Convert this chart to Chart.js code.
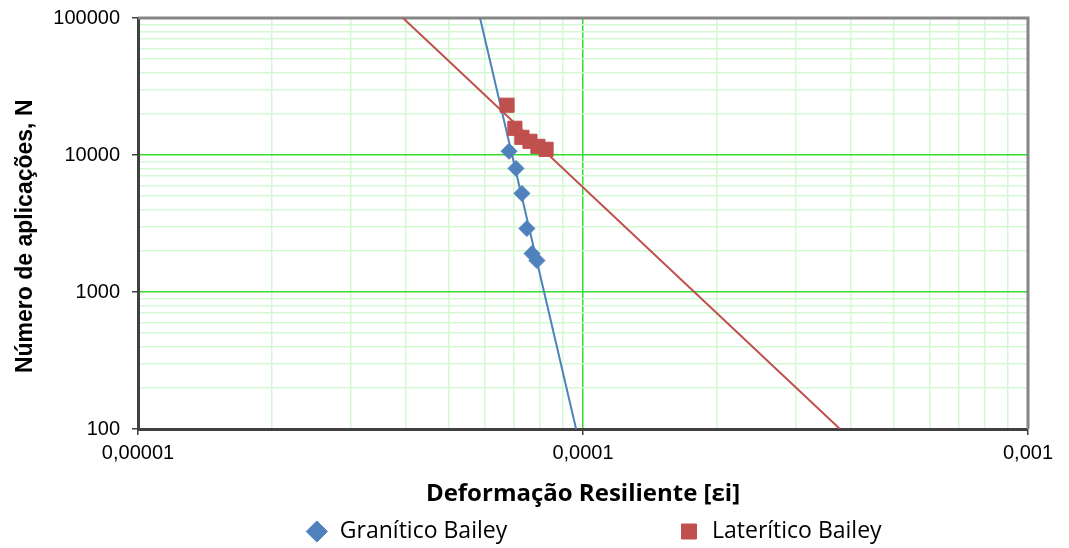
<!DOCTYPE html>
<html>
<head>
<meta charset="utf-8">
<script src="https://cdn.jsdelivr.net/npm/chart.js@4"></script>
<style>
  html, body { margin: 0; padding: 0; background: #fff; }
  #wrap { width: 1069px; height: 548px; }
</style>
</head>
<body>
<div id="wrap"><canvas id="grafico"></canvas></div>
<script>
// Pontos medidos (deformação, N)
const granitoDef = [6.82e-5, 7.07e-5, 7.29e-5, 7.48e-5, 7.68e-5, 7.88e-5];
const granitoN = [10640, 7985, 5243, 2906, 1908, 1696];
const lateritoDef = [6.75e-5, 7.03e-5, 7.29e-5, 7.60e-5, 7.92e-5, 8.26e-5];
const lateritoN = [23090, 15670, 13460, 12590, 11570, 11000];

// Linhas de tendência (extremos)
const tendGranitoDef = [5.87e-5, 9.65e-5];
const tendGranitoN = [100000, 100];
const tendLateritoDef = [3.94e-5, 3.78e-4];
const tendLateritoN = [100000, 100];

const xTicks = ['0,00001', '0,0001', '0,001'];
const yTicks = ['100', '1000', '10000', '100000'];

const azul = '#4f81bd';
const vermelho = '#c0504d';

function pares(xs, ys) {
  return xs.map((x, i) => ({ x: x, y: ys[i] }));
}

function logTicks(min, max) {
  const t = [];
  for (let e = Math.round(Math.log10(min)); e < Math.round(Math.log10(max)); e++) {
    for (let m = 1; m < 10; m++) t.push({ value: m * Math.pow(10, e) });
  }
  t.push({ value: max });
  return t;
}

function ehDecada(v) {
  const l = Math.log10(v);
  return Math.abs(l - Math.round(l)) < 1e-6;
}

const moldura = {
  id: 'moldura',
  beforeDatasetsDraw(chart) {
    const a = chart.chartArea, ctx = chart.ctx;
    ctx.save();
    ctx.strokeStyle = '#868686';
    ctx.lineWidth = 3;
    ctx.beginPath();
    ctx.moveTo(a.left, a.top);
    ctx.lineTo(a.right, a.top);
    ctx.lineTo(a.right, a.bottom);
    ctx.stroke();
    ctx.restore();
  }
};

// espaços para afastar as entradas da legenda como no original
const espacoLegenda = ['                            ', '                        '];

const ctx = document.getElementById('grafico').getContext('2d');
const grafico = new Chart(ctx, {
  type: 'scatter',
  data: {
    datasets: [{
      label: 'Granítico Bailey',
      data: pares(granitoDef, granitoN),
      pointStyle: 'rectRot',
      pointRadius: 8,
      backgroundColor: azul,
      borderColor: azul
    }, {
      label: 'Laterítico Bailey',
      data: pares(lateritoDef, lateritoN),
      pointStyle: 'rect',
      pointRadius: 10,
      backgroundColor: vermelho,
      borderColor: vermelho
    }, {
      label: 'tend1',
      data: pares(tendGranitoDef, tendGranitoN),
      showLine: true,
      pointRadius: 0,
      borderColor: azul,
      borderWidth: 2,
      order: 2
    }, {
      label: 'tend2',
      data: pares(tendLateritoDef, tendLateritoN),
      showLine: true,
      pointRadius: 0,
      borderColor: vermelho,
      borderWidth: 2,
      order: 2
    }]
  },
  options: {
    responsive: true,
    maintainAspectRatio: false,
    animation: false,
    layout: { padding: { top: 18, right: 41, left: 0, bottom: -5 } },
    plugins: {
      tooltip: { enabled: false },
      legend: {
        position: 'bottom',
        align: 'end',
        labels: {
          usePointStyle: true,
          boxHeight: 15,
          padding: 3,
          color: '#000',
          font: { family: 'Open Sans', size: 23 },
          filter: (item) => item.text.indexOf('tend') !== 0,
          sort: (a, b) => a.datasetIndex - b.datasetIndex,
          generateLabels(chart) {
            const base = Chart.defaults.plugins.legend.labels.generateLabels(chart);
            return base.map((it) => {
              if (it.datasetIndex < 2) it.text = it.text + espacoLegenda[it.datasetIndex];
              return it;
            });
          }
        }
      }
    },
    scales: {
      x: {
        type: 'logarithmic',
        min: 1e-5,
        max: 1e-3,
        afterBuildTicks: (s) => { s.ticks = logTicks(1e-5, 1e-3); },
        afterFit: (s) => { s.height = 88; },
        border: { color: '#404040', width: 3 },
        grid: {
          color: (c) => ehDecada(c.tick.value) ? '#33dd33' : '#d4f7d4',
          lineWidth: 1.5,
          tickLength: 6,
          tickColor: (c) => ehDecada(c.tick.value) ? '#404040' : 'rgba(0,0,0,0)'
        },
        ticks: {
          autoSkip: false,
          maxRotation: 0,
          color: '#000',
          padding: 6,
          font: { family: 'Liberation Sans', size: 20 },
          callback: (v) => {
            const l = Math.log10(v);
            if (!ehDecada(v)) return '';
            return xTicks[Math.round(l) + 5];
          }
        },
        title: {
          display: true,
          text: 'Deformação Resiliente [εi]',
          color: '#000',
          font: { family: 'Open Sans', size: 24, weight: 'bold' },
          padding: { top: 8, bottom: 8 }
        }
      },
      y: {
        type: 'logarithmic',
        min: 100,
        max: 100000,
        afterBuildTicks: (s) => { s.ticks = logTicks(100, 100000); },
        afterFit: (s) => { s.width = 138; s.paddingTop = 0; s.paddingBottom = 0; },
        border: { color: '#404040', width: 3 },
        grid: {
          color: (c) => ehDecada(c.tick.value) ? '#33dd33' : '#d4f7d4',
          lineWidth: 1.5,
          tickLength: 6,
          tickColor: (c) => ehDecada(c.tick.value) ? '#404040' : 'rgba(0,0,0,0)'
        },
        ticks: {
          autoSkip: false,
          color: '#000',
          padding: 12,
          font: { family: 'Liberation Sans', size: 20 },
          callback: (v) => {
            if (!ehDecada(v)) return '';
            return yTicks[Math.round(Math.log10(v)) - 2];
          }
        },
        title: {
          display: true,
          text: 'Número de aplicações, N    ',
          color: '#000',
          font: { family: 'Liberation Sans', size: 23, weight: 'bold' },
          padding: { top: 12, bottom: 6 }
        }
      }
    }
  },
  plugins: [moldura]
});
</script>
</body>
</html>
